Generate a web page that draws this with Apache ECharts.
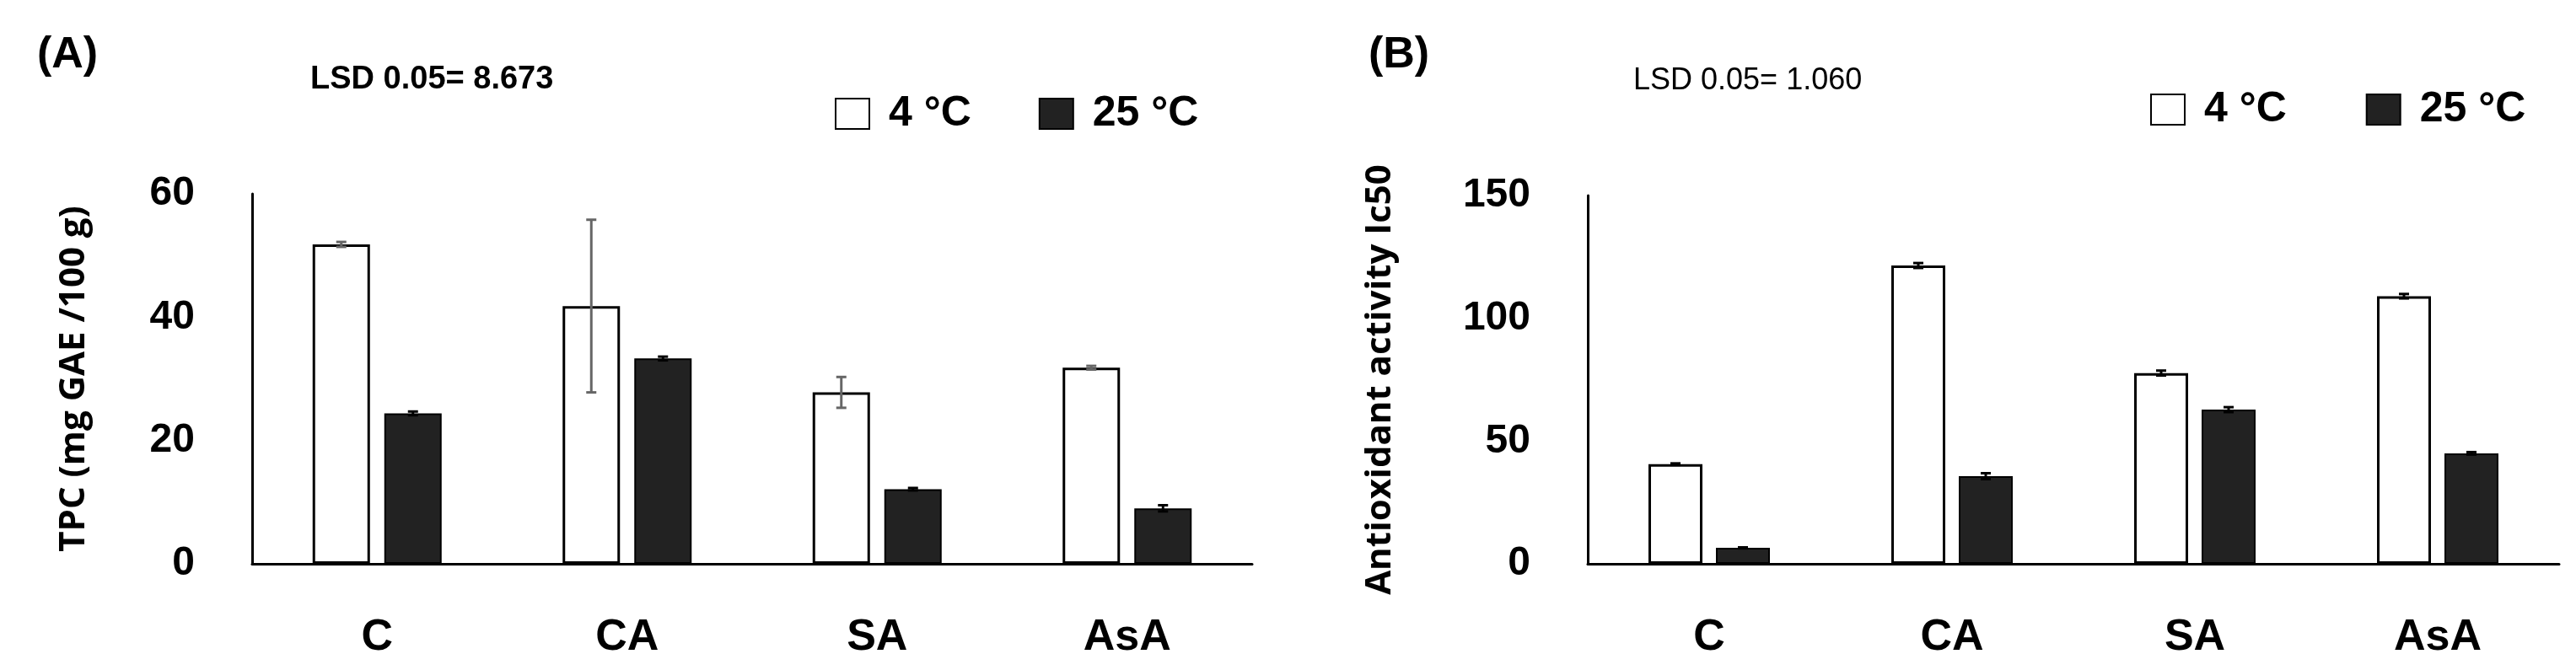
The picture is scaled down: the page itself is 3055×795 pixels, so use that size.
<!DOCTYPE html>
<html>
<head>
<meta charset="utf-8" />
<title>TPC and antioxidant activity</title>
<script src="https://cdn.jsdelivr.net/npm/echarts@6/dist/echarts.min.js"></script>
<style>html,body{margin:0;padding:0;background:#fff}#main{width:3055px;height:795px}</style>
</head>
<body>
<div id="main"></div>
<script type="text/javascript">
var categories = ['C', 'CA', 'SA', 'AsA'];
// panel A: TPC
var tpc4 = [51.8, 41.8, 27.8, 31.8];
var tpc4Err = [0.4, 14, 2.5, 0.3];
var tpc25 = [24.4, 33.3, 12.1, 9.0];
var tpc25Err = [0.3, 0.3, 0.2, 0.5];
// panel B: antioxidant activity
var ic4 = [40.6, 121.5, 77.7, 109];
var ic4Err = [0.3, 1.0, 1.0, 0.9];
var ic25 = [6.5, 35.7, 62.8, 45];
var ic25Err = [0.2, 1.2, 1.0, 0.5];

var FONT = '"Liberation Sans Narrow", "Liberation Sans", sans-serif';
var FONT2 = '"Open Sans", "DejaVu Sans", sans-serif';

function errSeries(idx, vals, errs, offset, color) {
    return {
        type: 'custom', xAxisIndex: idx, yAxisIndex: idx, z: 10, silent: true,
        data: vals.map(function (v, i) { return [i, v, errs[i]]; }),
        renderItem: function (params, api) {
            var lo = api.coord([api.value(0), api.value(1) - api.value(2)]);
            var hi = api.coord([api.value(0), api.value(1) + api.value(2)]);
            var x = lo[0] + offset, c = 6;
            var st = { stroke: color, lineWidth: 3 };
            return { type: 'group', children: [
                { type: 'line', shape: { x1: x, y1: lo[1], x2: x, y2: hi[1] }, style: st },
                { type: 'line', shape: { x1: x - c, y1: lo[1], x2: x + c, y2: lo[1] }, style: st },
                { type: 'line', shape: { x1: x - c, y1: hi[1], x2: x + c, y2: hi[1] }, style: st }
            ] };
        }
    };
}

function xAx(idx) {
    return {
        type: 'category', gridIndex: idx, data: categories,
        axisLine: { lineStyle: { color: '#000', width: 3 } },
        axisTick: { show: false },
        axisLabel: { fontFamily: FONT, fontWeight: 'bold', fontSize: 52, color: '#000', margin: 62 }
    };
}
function yAx(idx, max, interval, name) {
    return {
        type: 'value', gridIndex: idx, min: 0, max: max, interval: interval,
        name: name, nameLocation: 'middle', nameGap: idx === 0 ? 190 : 225,
        nameTextStyle: { fontFamily: FONT2, fontWeight: 'bold', fontSize: 42, color: '#000' },
        axisLine: { show: true, lineStyle: { color: '#000', width: 3 } },
        axisTick: { show: false }, splitLine: { show: false },
        axisLabel: { fontFamily: FONT, fontWeight: 'bold', fontSize: 48, color: '#000', margin: 68 }
    };
}

var white = { color: '#fff', borderColor: '#000', borderWidth: 3 };
var black = { color: '#222', borderColor: '#000', borderWidth: 2 };
var legText = { fontFamily: FONT, fontWeight: 'bold', fontSize: 50, color: '#000', padding: [0, 0, 0, 18] };

var myChart = echarts.init(document.getElementById('main'));
myChart.setOption({
    animation: false,
    grid: [
        { left: 299, right: 1570, top: 230, bottom: 126 },
        { left: 1883, right: 20, top: 232, bottom: 126 }
    ],
    xAxis: [xAx(0), xAx(1)],
    yAxis: [yAx(0, 60, 20, 'TPC (mg GAE /100 g)'), yAx(1, 150, 50, 'Antioxidant activity Ic50')],
    legend: [
        { left: 985, top: 105, icon: 'rect', itemWidth: 40, itemHeight: 36, itemGap: 80, data: ['4 °C', '25 °C'], textStyle: legText },
        { left: 2545, top: 100, icon: 'rect', itemWidth: 40, itemHeight: 36, itemGap: 80, data: ['4 °C ', '25 °C '], textStyle: legText }
    ],
    graphic: [
        { type: 'text', left: 44, top: 40, style: { text: '(A)', fontFamily: FONT, fontWeight: 'bold', fontSize: 52, fill: '#000' } },
        { type: 'text', left: 368, top: 76, style: { text: 'LSD 0.05= 8.673', fontFamily: FONT, fontWeight: 'bold', fontSize: 38, fill: '#000' } },
        { type: 'text', left: 1623, top: 40, style: { text: '(B)', fontFamily: FONT, fontWeight: 'bold', fontSize: 52, fill: '#000' } },
        { type: 'text', left: 1937, top: 78, style: { text: 'LSD 0.05= 1.060', fontFamily: FONT, fontSize: 36, fill: '#000' } }
    ],
    series: [
        { name: '4 °C', type: 'bar', xAxisIndex: 0, yAxisIndex: 0, data: tpc4, barWidth: 68, barGap: '25%', itemStyle: white },
        { name: '25 °C', type: 'bar', xAxisIndex: 0, yAxisIndex: 0, data: tpc25, barWidth: 68, barGap: '25%', itemStyle: black },
        { name: '4 °C ', type: 'bar', xAxisIndex: 1, yAxisIndex: 1, data: ic4, barWidth: 64, barGap: '25%', itemStyle: white },
        { name: '25 °C ', type: 'bar', xAxisIndex: 1, yAxisIndex: 1, data: ic25, barWidth: 64, barGap: '25%', itemStyle: black },
        errSeries(0, tpc4, tpc4Err, -42.5, '#666'),
        errSeries(0, tpc25, tpc25Err, 42.5, '#000'),
        errSeries(1, ic4, ic4Err, -40, '#000'),
        errSeries(1, ic25, ic25Err, 40, '#000')
    ]
});
</script>
</body>
</html>
